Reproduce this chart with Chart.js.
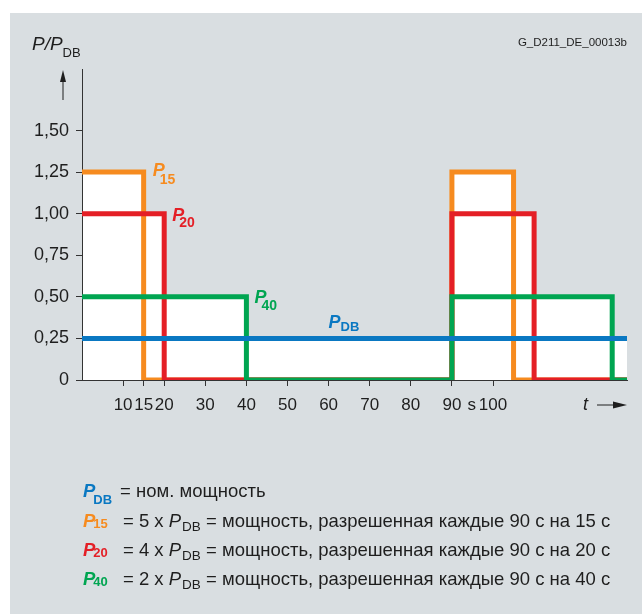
<!DOCTYPE html>
<html>
<head>
<meta charset="utf-8">
<script src="https://cdn.jsdelivr.net/npm/chart.js@4/dist/chart.umd.min.js"></script>
<style>
html, body { margin: 0; padding: 0; background: #fff; }
#panel { position: absolute; left: 10px; top: 13px; width: 632px; height: 601px; background: #d9dee1; }
#chart { position: absolute; left: 0; top: 0; }
</style>
</head>
<body>
<div id="panel"></div>
<canvas id="chart" width="642" height="614"></canvas>
<script>
// tick labels
const xTicks = [10, 15, 20, 30, 40, 50, 60, 70, 80, 90, 100];
const yTicks = [0, 0.25, 0.5, 0.75, 1.0, 1.25, 1.5];

// step curves: level holds from each time until the next one
const pdbTimes = [0, 132.6];
const pdbLevels = [0.25, 0.25];
const p15Times = [0, 15, 90, 105, 132.6];
const p15Levels = [1.25, 0, 1.25, 0, 0];
const p20Times = [0, 20, 90, 110, 132.6];
const p20Levels = [1.0, 0, 1.0, 0, 0];
const p40Times = [0, 40, 90, 129, 132.6];
const p40Levels = [0.5, 0, 0.5, 0, 0];

const BLUE = "#0a78c2";
const ORANGE = "#f68b1f";
const RED = "#e41f26";
const GREEN = "#00a551";
const TEXT = "#1e1e1e";
const FAM = '"Liberation Sans", Arial, sans-serif';

function series(times, levels, color) {
    return {
        data: times.map((t, i) => ({ x: t, y: levels[i] })),
        borderColor: color,
        borderWidth: 5,
        backgroundColor: "#fff",
        fill: "origin",
        stepped: true,
        pointRadius: 0,
        borderJoinStyle: "miter",
        borderCapStyle: "butt",
    };
}

// draw a row of text pieces one after another
function runs(ctx, x, y, parts) {
    for (const p of parts) {
        ctx.font = p.f;
        ctx.fillStyle = p.c;
        x += p.dx || 0;
        ctx.fillText(p.t, x, y + (p.dy || 0));
        x += ctx.measureText(p.t).width;
    }
    return x;
}

const bi = (s) => `italic bold ${s}px ${FAM}`;
const b = (s) => `bold ${s}px ${FAM}`;
const it = (s) => `italic ${s}px ${FAM}`;
const r = (s) => `${s}px ${FAM}`;

const annotations = {
    id: "annotations",
    afterDraw(chart) {
        const { ctx, chartArea } = chart;
        const xs = chart.scales.x, ys = chart.scales.y;
        ctx.save();
        ctx.textBaseline = "alphabetic";
        ctx.textAlign = "left";

        // axis title
        runs(ctx, 32, 50, [
            { t: "P/P", f: it(19), c: TEXT },
            { t: "DB", f: r(13), c: TEXT, dy: 7, dx: 0 },
        ]);
        ctx.font = r(11.5);
        ctx.fillStyle = TEXT;
        ctx.textAlign = "right";
        ctx.fillText("G_D211_DE_00013b", 627, 46);
        ctx.textAlign = "left";

        // arrow next to y axis
        ctx.strokeStyle = TEXT;
        ctx.fillStyle = TEXT;
        ctx.lineWidth = 1;
        const ax = chartArea.left - 19;
        ctx.beginPath();
        ctx.moveTo(ax, chartArea.top + 31);
        ctx.lineTo(ax, chartArea.top + 10);
        ctx.stroke();
        ctx.beginPath();
        ctx.moveTo(ax, chartArea.top + 1);
        ctx.lineTo(ax - 3, chartArea.top + 13);
        ctx.lineTo(ax + 3, chartArea.top + 13);
        ctx.closePath();
        ctx.fill();

        // unit and t arrow on x axis
        const ly = chartArea.bottom + 30;
        ctx.font = r(17);
        ctx.textAlign = "center";
        ctx.fillText("s", xs.getPixelForValue(94.8), ly);
        ctx.textAlign = "left";
        ctx.font = it(18);
        ctx.fillText("t", chartArea.right - 44, ly);
        const ay = chartArea.bottom + 25;
        ctx.beginPath();
        ctx.moveTo(chartArea.right - 30, ay);
        ctx.lineTo(chartArea.right - 12, ay);
        ctx.stroke();
        ctx.beginPath();
        ctx.moveTo(chartArea.right, ay);
        ctx.lineTo(chartArea.right - 14, ay - 3.5);
        ctx.lineTo(chartArea.right - 14, ay + 3.5);
        ctx.closePath();
        ctx.fill();

        // curve labels
        runs(ctx, xs.getPixelForValue(15) + 9, ys.getPixelForValue(1.25) + 4, [
            { t: "P", f: bi(18), c: ORANGE },
            { t: "15", f: b(14), c: ORANGE, dy: 8, dx: -5 },
        ]);
        runs(ctx, xs.getPixelForValue(20) + 8, ys.getPixelForValue(1.0) + 7, [
            { t: "P", f: bi(18), c: RED },
            { t: "20", f: b(14), c: RED, dy: 6, dx: -5 },
        ]);
        runs(ctx, xs.getPixelForValue(40) + 8, ys.getPixelForValue(0.5) + 6, [
            { t: "P", f: bi(18), c: GREEN },
            { t: "40", f: b(14), c: GREEN, dy: 7, dx: -5 },
        ]);
        runs(ctx, xs.getPixelForValue(60), ys.getPixelForValue(0.25) - 10, [
            { t: "P", f: bi(18), c: BLUE },
            { t: "DB", f: b(13), c: BLUE, dy: 3, dx: 0 },
        ]);

        // explanation block
        runs(ctx, 83, 497, [
            { t: "P", f: bi(18.5), c: BLUE },
            { t: "DB", f: b(13), c: BLUE, dy: 7, dx: -2 },
        ]);
        ctx.font = r(18.5);
        ctx.fillStyle = TEXT;
        ctx.fillText("= ном. мощность", 120, 497);

        const rows = [
            { label: "15", color: ORANGE, k: "5", y: 527 },
            { label: "20", color: RED, k: "4", y: 556 },
            { label: "40", color: GREEN, k: "2", y: 585 },
        ];
        for (const row of rows) {
            runs(ctx, 83, row.y, [
                { t: "P", f: bi(18.5), c: row.color },
                { t: row.label, f: b(13), c: row.color, dy: 1, dx: -2 },
            ]);
            runs(ctx, 123, row.y, [
                { t: `= ${row.k} x `, f: r(18.5), c: TEXT },
                { t: "P", f: it(18.5), c: TEXT },
                { t: "DB", f: r(13.5), c: TEXT, dy: 4, dx: 1 },
                { t: ` = мощность, разрешенная каждые 90 с на ${row.label} с`, f: r(18.5), c: TEXT },
            ]);
        }
        ctx.restore();
    },
};

const axisCommon = {
    grid: { drawOnChartArea: false, tickLength: 6, color: "#333", lineWidth: 1 },
    border: { color: "#333", width: 1 },
};

new Chart(document.getElementById("chart"), {
    type: "line",
    data: {
        datasets: [
            series(pdbTimes, pdbLevels, BLUE),
            series(p40Times, p40Levels, GREEN),
            series(p20Times, p20Levels, RED),
            series(p15Times, p15Levels, ORANGE),
        ],
    },
    options: {
        responsive: false,
        animation: false,
        events: [],
        layout: { padding: { left: 10, top: 69, right: 15, bottom: 194 } },
        plugins: {
            legend: { display: false },
            tooltip: { enabled: false },
            filler: { drawTime: "beforeDraw" },
        },
        scales: {
            x: {
                type: "linear",
                min: 0,
                max: 132.6,
                afterBuildTicks: (s) => { s.ticks = xTicks.map((v) => ({ value: v })); },
                afterFit: (s) => { s.height = 40; },
                ticks: {
                    font: { family: FAM, size: 17 },
                    color: TEXT,
                    autoSkip: false,
                    maxRotation: 0,
                    padding: 9,
                    callback: (v) => String(v),
                },
                grid: axisCommon.grid,
                border: axisCommon.border,
            },
            y: {
                min: 0,
                max: 1.87,
                afterBuildTicks: (s) => { s.ticks = yTicks.map((v) => ({ value: v })); },
                afterFit: (s) => { s.width = 72; },
                ticks: {
                    font: { family: FAM, size: 18 },
                    color: TEXT,
                    autoSkip: false,
                    padding: 7,
                    callback: (v) => (v === 0 ? "0" : v.toFixed(2).replace(".", ",")),
                },
                grid: axisCommon.grid,
                border: axisCommon.border,
            },
        },
    },
    plugins: [annotations],
});
</script>
</body>
</html>
